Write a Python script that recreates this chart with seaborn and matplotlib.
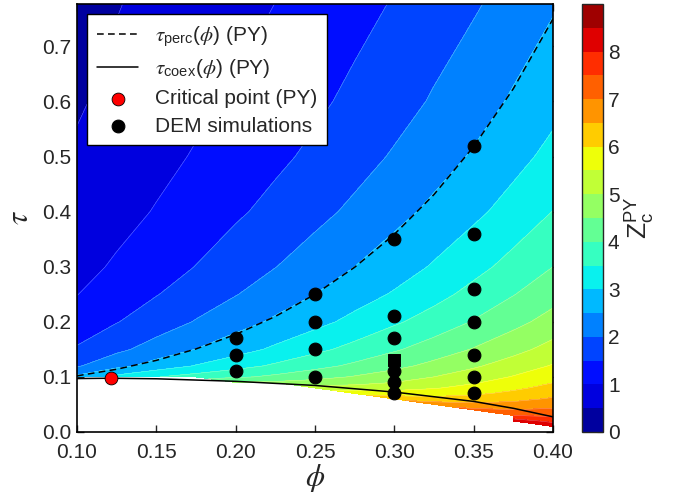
import numpy as np
import pandas as pd
import matplotlib
matplotlib.use('Agg')
import matplotlib.pyplot as plt
import seaborn as sns

nan = np.nan

# Z_c^PY read on a grid: columns are phi, one list per tau row
phi_grid = [0.100, 0.125, 0.150, 0.175, 0.200, 0.225, 0.250, 0.275, 0.300, 0.325, 0.350, 0.375, 0.400]
tau_grid = [0.00, 0.01, 0.02, 0.03, 0.04, 0.05, 0.06, 0.07, 0.08, 0.09, 0.10,
            0.12, 0.15, 0.20, 0.25, 0.30, 0.40, 0.50, 0.60, 0.78]

z_t000 = [nan, nan, nan, nan, nan, nan, nan, nan, nan, nan, nan, nan, 10.00]
z_t001 = [nan, nan, nan, nan, nan, nan, nan, nan, nan, nan, nan, nan, 8.41]
z_t002 = [nan, nan, nan, nan, nan, nan, nan, nan, nan, nan, nan, 8.30, 7.84]
z_t003 = [nan, nan, nan, nan, nan, nan, nan, nan, nan, nan, nan, 7.50, 7.42]
z_t004 = [nan, nan, nan, nan, nan, nan, nan, nan, nan, nan, 7.16, 7.02, 7.08]
z_t005 = [nan, nan, nan, nan, nan, nan, nan, nan, nan, 6.80, 6.61, 6.66, 6.81]
z_t006 = [nan, nan, nan, nan, nan, nan, nan, nan, 6.38, 6.18, 6.23, 6.36, 6.56]
z_t007 = [nan, nan, nan, nan, nan, nan, nan, 5.85, 5.71, 5.78, 5.91, 6.11, 6.35]
z_t008 = [nan, nan, nan, nan, nan, nan, 5.23, 5.21, 5.31, 5.46, 5.66, 5.90, 6.15]
z_t009 = [nan, nan, nan, nan, 4.63, 4.58, 4.68, 4.83, 5.00, 5.21, 5.45, 5.70, 5.99]
z_t010 = [2.61, 3.14, 3.48, 3.71, 3.91, 4.11, 4.33, 4.54, 4.76, 5.00, 5.25, 5.53, 5.83]
z_t012 = [1.95, 2.35, 2.70, 3.03, 3.31, 3.58, 3.84, 4.10, 4.36, 4.64, 4.93, 5.23, 5.54]
z_t015 = [1.55, 1.89, 2.20, 2.51, 2.80, 3.09, 3.38, 3.65, 3.94, 4.23, 4.53, 4.84, 5.18]
z_t020 = [1.20, 1.48, 1.75, 2.03, 2.30, 2.58, 2.85, 3.14, 3.43, 3.71, 4.03, 4.35, 4.69]
z_t025 = [0.99, 1.24, 1.48, 1.73, 1.98, 2.24, 2.50, 2.78, 3.05, 3.34, 3.65, 3.98, 4.31]
z_t030 = [0.85, 1.06, 1.29, 1.51, 1.75, 1.99, 2.24, 2.50, 2.76, 3.05, 3.35, 3.66, 4.00]
z_t040 = [0.66, 0.84, 1.03, 1.23, 1.43, 1.64, 1.86, 2.10, 2.35, 2.61, 2.89, 3.19, 3.51]
z_t050 = [0.55, 0.70, 0.86, 1.04, 1.21, 1.40, 1.60, 1.81, 2.05, 2.29, 2.55, 2.84, 3.14]
z_t060 = [0.46, 0.60, 0.74, 0.89, 1.05, 1.23, 1.41, 1.61, 1.81, 2.05, 2.29, 2.56, 2.85]
z_t078 = [0.38, 0.48, 0.60, 0.73, 0.86, 1.00, 1.16, 1.34, 1.53, 1.73, 1.94, 2.18, 2.44]

phi_perc = [0.100, 0.125, 0.150, 0.175, 0.200, 0.225, 0.250, 0.275, 0.300, 0.325, 0.350, 0.375, 0.400]
tau_perc = [0.1019, 0.1139, 0.1300, 0.1508, 0.1771, 0.2098, 0.2500, 0.2991, 0.3588, 0.4311, 0.5182, 0.6233, 0.7500]

phi_coex = [0.100, 0.121, 0.150, 0.200, 0.250, 0.300, 0.350, 0.375, 0.400]
tau_coex = [0.0970, 0.0976, 0.0966, 0.0920, 0.0845, 0.0725, 0.0555, 0.0430, 0.0275]

phi_crit = [0.1213]
tau_crit = [0.0976]

dem_phi = [0.20, 0.20, 0.20, 0.25, 0.25, 0.25, 0.25, 0.30, 0.30, 0.30, 0.30, 0.30, 0.30,
           0.35, 0.35, 0.35, 0.35, 0.35, 0.35, 0.35]
dem_tau = [0.17, 0.14, 0.11, 0.25, 0.20, 0.15, 0.10, 0.35, 0.21, 0.17, 0.11, 0.09, 0.07,
           0.52, 0.36, 0.26, 0.20, 0.14, 0.10, 0.07]
sq_phi = [0.30]
sq_tau = [0.13]

Z = np.array([z_t000, z_t001, z_t002, z_t003, z_t004, z_t005, z_t006, z_t007, z_t008, z_t009,
              z_t010, z_t012, z_t015, z_t020, z_t025, z_t030, z_t040, z_t050, z_t060, z_t078])

sns.set_style('ticks')
plt.rcParams['font.family'] = ['Liberation Sans', 'DejaVu Sans']
plt.rcParams['mathtext.fontset'] = 'custom'
plt.rcParams['mathtext.rm'] = 'Liberation Sans'
plt.rcParams['mathtext.sf'] = 'Liberation Sans'
plt.rcParams['mathtext.it'] = 'STIXGeneral:italic'
plt.rcParams['mathtext.bf'] = 'Liberation Sans:bold'

fig = plt.figure(figsize=(6.74, 4.97), dpi=100)
ax = fig.add_axes([0.1142, 0.1308, 0.7063, 0.8612])
cax = fig.add_axes([0.8635, 0.1308, 0.0312, 0.8612])

levels = np.arange(0, 9.01, 0.5)
cf = ax.contourf(phi_grid, tau_grid, Z, levels=levels, cmap='jet')
ax.contour(phi_grid, tau_grid, Z, levels=levels, colors='white', linewidths=0.35, alpha=0.45)

perc = pd.DataFrame({'phi': phi_perc, 'tau': tau_perc})
coex = pd.DataFrame({'phi': phi_coex, 'tau': tau_coex})
sns.lineplot(data=perc, x='phi', y='tau', ax=ax, color='black', lw=1.1, sort=False,
             estimator=None, label=r'$\tau_{\mathrm{perc}}(\phi)$ (PY)')
ax.lines[-1].set_dashes([4.4, 2.8])
sns.lineplot(data=coex, x='phi', y='tau', ax=ax, color='black', lw=1.1, sort=False,
             estimator=None, label=r'$\tau_{\mathrm{coex}}(\phi)$ (PY)')

sns.scatterplot(x=phi_crit, y=tau_crit, ax=ax, color='red', edgecolor='black', linewidth=0.6,
                s=85, zorder=5, label='Critical point (PY)')
sns.scatterplot(x=dem_phi, y=dem_tau, ax=ax, color='black', edgecolor='black', s=85,
                zorder=5, label='DEM simulations')
sns.scatterplot(x=sq_phi, y=sq_tau, ax=ax, color='black', edgecolor='black', marker='s',
                s=75, zorder=5)

ax.set_xlim(0.10, 0.40)
ax.set_ylim(0.0, 0.777)
ax.set_xticks([0.10, 0.15, 0.20, 0.25, 0.30, 0.35, 0.40])
ax.set_xticklabels(['0.10', '0.15', '0.20', '0.25', '0.30', '0.35', '0.40'])
ax.set_yticks([0.0, 0.1, 0.2, 0.3, 0.4, 0.5, 0.6, 0.7])
ax.set_yticklabels(['0.0', '0.1', '0.2', '0.3', '0.4', '0.5', '0.6', '0.7'])
ax.tick_params(direction='in', top=True, right=True, labelsize=15, length=5, width=1)
ax.tick_params(axis='x', pad=8)
ax.tick_params(axis='y', pad=4)
ax.set_xlabel(r'$\phi$', fontsize=22, labelpad=0)
ax.set_ylabel(r'$\tau$', fontsize=22, labelpad=5)
for sp in ax.spines.values():
    sp.set_linewidth(1.2)
    sp.set_color('black')

leg = ax.legend(loc='upper left', fontsize=15, frameon=True, fancybox=False, edgecolor='black',
                framealpha=1, handlelength=2.0, handletextpad=0.8, labelspacing=0.42,
                borderaxespad=0.5, borderpad=0.45)
leg.get_frame().set_linewidth(1.0)

cb = fig.colorbar(cf, cax=cax, ticks=range(9))
cb.ax.tick_params(labelsize=15, direction='in', length=4)
cb.outline.set_linewidth(1.0)
cb.set_label(r'$\mathrm{Z}_{\mathrm{c}}^{\mathrm{PY}}$', fontsize=19, labelpad=2)

fig.savefig('out.png', dpi=100)
